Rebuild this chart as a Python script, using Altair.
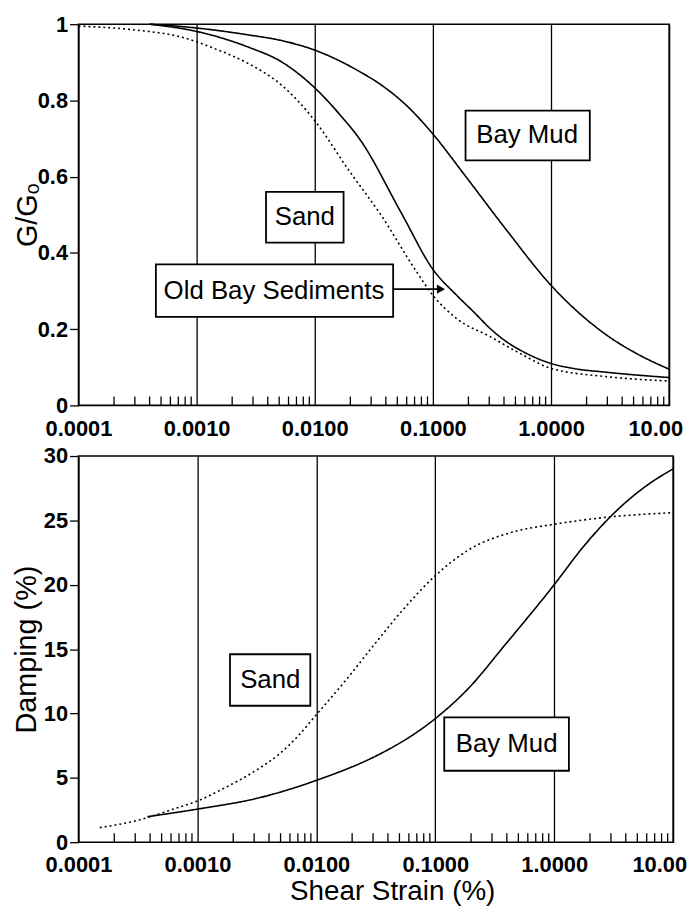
import altair as alt
import pandas as pd

# ---------------- data ----------------
# Top panel: modulus reduction G/Go vs shear strain (%)
sand_g_strain = [0.0001, 0.0003, 0.000746, 0.00142, 0.00273, 0.00525, 0.01, 0.0193, 0.0368, 0.0702, 0.1, 0.16, 0.307, 0.58, 1.0, 2.94, 10.0]
sand_g = [0.995, 0.985, 0.966, 0.936, 0.897, 0.84, 0.747, 0.618, 0.497, 0.358, 0.289, 0.227, 0.18, 0.132, 0.097, 0.0755, 0.064]

oldbay_g_strain = [0.0004, 0.001, 0.00273, 0.00525, 0.01, 0.0164, 0.0242, 0.054, 0.1, 0.16, 0.222, 0.307, 0.42, 0.58, 1.0, 1.54, 2.94, 10.0]
oldbay_g = [1.0, 0.981, 0.94, 0.901, 0.833, 0.762, 0.697, 0.505, 0.357, 0.288, 0.245, 0.201, 0.167, 0.141, 0.11, 0.097, 0.087, 0.073]

baymud_g_strain = [0.0004, 0.001, 0.00273, 0.00525, 0.01, 0.0242, 0.0368, 0.0616, 0.1, 0.185, 0.42, 1.0, 2.94, 5.6, 10.0]
baymud_g = [1.0, 0.99, 0.972, 0.957, 0.932, 0.875, 0.84, 0.783, 0.712, 0.605, 0.46, 0.315, 0.185, 0.132, 0.095]

# Bottom panel: damping (%) vs shear strain (%)
sand_d_strain = [0.000151, 0.000321, 0.000643, 0.001, 0.00165, 0.00311, 0.0049, 0.0071, 0.01, 0.0185, 0.0316, 0.0552, 0.1, 0.19, 0.45, 1.0, 2.5, 10.0]
sand_d = [1.13, 1.72, 2.6, 3.2, 4.16, 5.58, 6.86, 8.3, 9.9, 12.8, 15.5, 18.2, 20.7, 22.7, 24.1, 24.7, 25.2, 25.6]

baymud_d_strain = [0.00038, 0.001, 0.00311, 0.01, 0.0368, 0.0616, 0.1, 0.197, 0.376, 1.0, 1.74, 3.3, 6.2, 10.0]
baymud_d = [1.98, 2.57, 3.39, 4.8, 7.0, 8.2, 9.6, 12.1, 15.2, 20.0, 22.9, 25.7, 27.8, 29.0]

# axis ticks / labels
x_decades = [0.0001, 0.001, 0.01, 0.1, 1.0, 10.0]
x_decade_labels = ["0.0001", "0.0010", "0.0100", "0.1000", "1.0000", "10.00"]
x_minor = [m * 10.0 ** e for e in range(-4, 1) for m in range(2, 10)]
g_ticks = [0, 0.2, 0.4, 0.6, 0.8, 1.0]
g_tick_labels = ["0", "0.2", "0.4", "0.6", "0.8", "1"]
d_ticks = [0, 5, 10, 15, 20, 25, 30]

# label boxes (data coordinates)
top_labels = ["Bay Mud", "Sand", "Old Bay Sediments"]
top_label_x = [0.628, 0.00824, 0.00452]
top_label_y = [0.708, 0.493, 0.30]
top_box_x1 = [0.189, 0.00387, 0.000452]
top_box_x2 = [2.13, 0.01754, 0.0461]
top_box_y1 = [0.643, 0.427, 0.232]
top_box_y2 = [0.773, 0.56, 0.37]

bot_labels = ["Sand", "Bay Mud"]
bot_label_x = [0.0041, 0.398]
bot_label_y = [12.6, 7.6]
bot_box_x1 = [0.00188, 0.119]
bot_box_x2 = [0.0089, 1.33]
bot_box_y1 = [10.6, 5.55]
bot_box_y2 = [14.6, 9.7]

arrow_x1 = [0.0461]
arrow_x2 = [0.112]
arrow_y = [0.305]
arrow_tip_x = [0.117]

FONT = "Liberation Sans"
TOP_W, TOP_H = 595, 384
BOT_W, BOT_H = 599, 389


def label_expr(values, labels):
    expr = "''"
    for v, l in reversed(list(zip(values, labels))):
        tol = v * 0.01 if v else 0.001
        expr = f"abs(datum.value - {v}) < {tol} ? '{l}' : " + expr
    return expr


def x_axis(title=None, last_offset=-12):
    kw = dict(
        values=x_decades,
        labelExpr=label_expr(x_decades, x_decade_labels),
        grid=True, gridColor="black", gridWidth=1.3, gridOpacity=1,
        ticks=False, domain=False, labelFlush=False, labelOverlap=False,
        labelFont=FONT, labelFontSize=22, labelFontWeight="bold", labelColor="black",
        labelPadding=13,
        labelOffset={"condition": {"test": "datum.value > 5", "value": last_offset}, "value": 0},
    )
    if title:
        kw.update(title=title, titleFont=FONT, titleFontSize=28, titleFontWeight="normal",
                  titleColor="black", titlePadding=2, titleX=316)
    else:
        kw.update(title=None)
    return alt.Axis(**kw)


def y_axis(values, title, labels=None, title_pad=0):
    kw = dict(
        values=values, grid=False, domain=False,
        tickSize=9, tickColor="black", tickWidth=1.3,
        labelFont=FONT, labelFontSize=22, labelFontWeight="bold", labelColor="black",
        labelPadding=2, labelFlush=False,
        title=title, titleFont=FONT, titleFontSize=29, titleFontWeight="normal",
        titleColor="black", titlePadding=title_pad,
    )
    if labels:
        kw["labelExpr"] = label_expr(values, labels)
    return alt.Axis(**kw)


xscale = alt.Scale(type="log", domain=[0.0001, 10], nice=False)

# ---------------- top panel ----------------
top_lines = pd.concat([
    pd.DataFrame({"strain": sand_g_strain, "val": sand_g, "series": "Sand"}),
    pd.DataFrame({"strain": oldbay_g_strain, "val": oldbay_g, "series": "Old Bay Sediments"}),
    pd.DataFrame({"strain": baymud_g_strain, "val": baymud_g, "series": "Bay Mud"}),
])
gscale = alt.Scale(domain=[0, 1], nice=False)
dash_scale = alt.Scale(domain=["Sand", "Old Bay Sediments", "Bay Mud"],
                       range=[[2, 3], [1, 0], [1, 0]])

t_lines = alt.Chart(top_lines).mark_line(color="black", interpolate="monotone", strokeWidth=1.6).encode(
    x=alt.X("strain:Q", scale=xscale, axis=x_axis(None, -14)),
    y=alt.Y("val:Q", scale=gscale, axis=y_axis(g_ticks, "G/Gₒ", g_tick_labels, -5)),
    detail="series:N",
    strokeDash=alt.StrokeDash("series:N", scale=dash_scale, legend=None),
)

top_box_df = pd.DataFrame({"x1": top_box_x1, "x2": top_box_x2, "y1": top_box_y1, "y2": top_box_y2})
t_boxes = alt.Chart(top_box_df).mark_rect(fill="white", stroke="black", strokeWidth=1.8).encode(
    x="x1:Q", x2="x2", y="y1:Q", y2="y2")
top_text_df = pd.DataFrame({"x": top_label_x, "y": top_label_y, "t": top_labels})
t_text = alt.Chart(top_text_df).mark_text(font=FONT, fontSize=26, color="black").encode(
    x="x:Q", y="y:Q", text="t:N")

arrow_df = pd.DataFrame({"x1": arrow_x1, "x2": arrow_x2, "y": arrow_y, "tip": arrow_tip_x})
t_arrow = alt.Chart(arrow_df).mark_rule(color="black", strokeWidth=1.8).encode(
    x="x1:Q", x2="x2", y="y:Q")
t_head = alt.Chart(arrow_df).mark_point(shape="triangle-right", filled=True, color="black",
                                        size=90, opacity=1).encode(x="tip:Q", y="y:Q")

minor_df = pd.DataFrame({"m": x_minor})
t_minor = alt.Chart(minor_df).mark_rule(color="black", strokeWidth=1.3).encode(
    x="m:Q", y=alt.value(TOP_H), y2=alt.value(TOP_H - 9))

top = alt.layer(t_lines, t_minor, t_boxes, t_text, t_arrow, t_head).properties(width=TOP_W, height=TOP_H)

# ---------------- bottom panel ----------------
bot_lines = pd.concat([
    pd.DataFrame({"strain": sand_d_strain, "val": sand_d, "series": "Sand"}),
    pd.DataFrame({"strain": baymud_d_strain, "val": baymud_d, "series": "Bay Mud"}),
])
dscale = alt.Scale(domain=[0, 30], nice=False)

b_lines = alt.Chart(bot_lines).mark_line(color="black", interpolate="monotone", strokeWidth=1.6).encode(
    x=alt.X("strain:Q", scale=xscale, axis=x_axis("Shear Strain (%)", -14)),
    y=alt.Y("val:Q", scale=dscale, axis=y_axis(d_ticks, "Damping (%)", None, 2)),
    detail="series:N",
    strokeDash=alt.StrokeDash("series:N", scale=dash_scale, legend=None),
)
bot_box_df = pd.DataFrame({"x1": bot_box_x1, "x2": bot_box_x2, "y1": bot_box_y1, "y2": bot_box_y2})
b_boxes = alt.Chart(bot_box_df).mark_rect(fill="white", stroke="black", strokeWidth=1.8).encode(
    x="x1:Q", x2="x2", y="y1:Q", y2="y2")
bot_text_df = pd.DataFrame({"x": bot_label_x, "y": bot_label_y, "t": bot_labels})
b_text = alt.Chart(bot_text_df).mark_text(font=FONT, fontSize=26, color="black").encode(
    x="x:Q", y="y:Q", text="t:N")
b_minor = alt.Chart(minor_df).mark_rule(color="black", strokeWidth=1.3).encode(
    x="m:Q", y=alt.value(BOT_H), y2=alt.value(BOT_H - 9))

bottom = alt.layer(b_lines, b_minor, b_boxes, b_text).properties(width=BOT_W, height=BOT_H)

chart = alt.vconcat(top, bottom, spacing=51, bounds="flush").properties(
    padding={"left": 3, "top": 1, "right": 0, "bottom": 0},
    background="white",
).configure_view(stroke="black", strokeWidth=1.6).configure_concat(spacing=51)

chart.save("out.html", embed_options={"renderer": "svg", "actions": False})
